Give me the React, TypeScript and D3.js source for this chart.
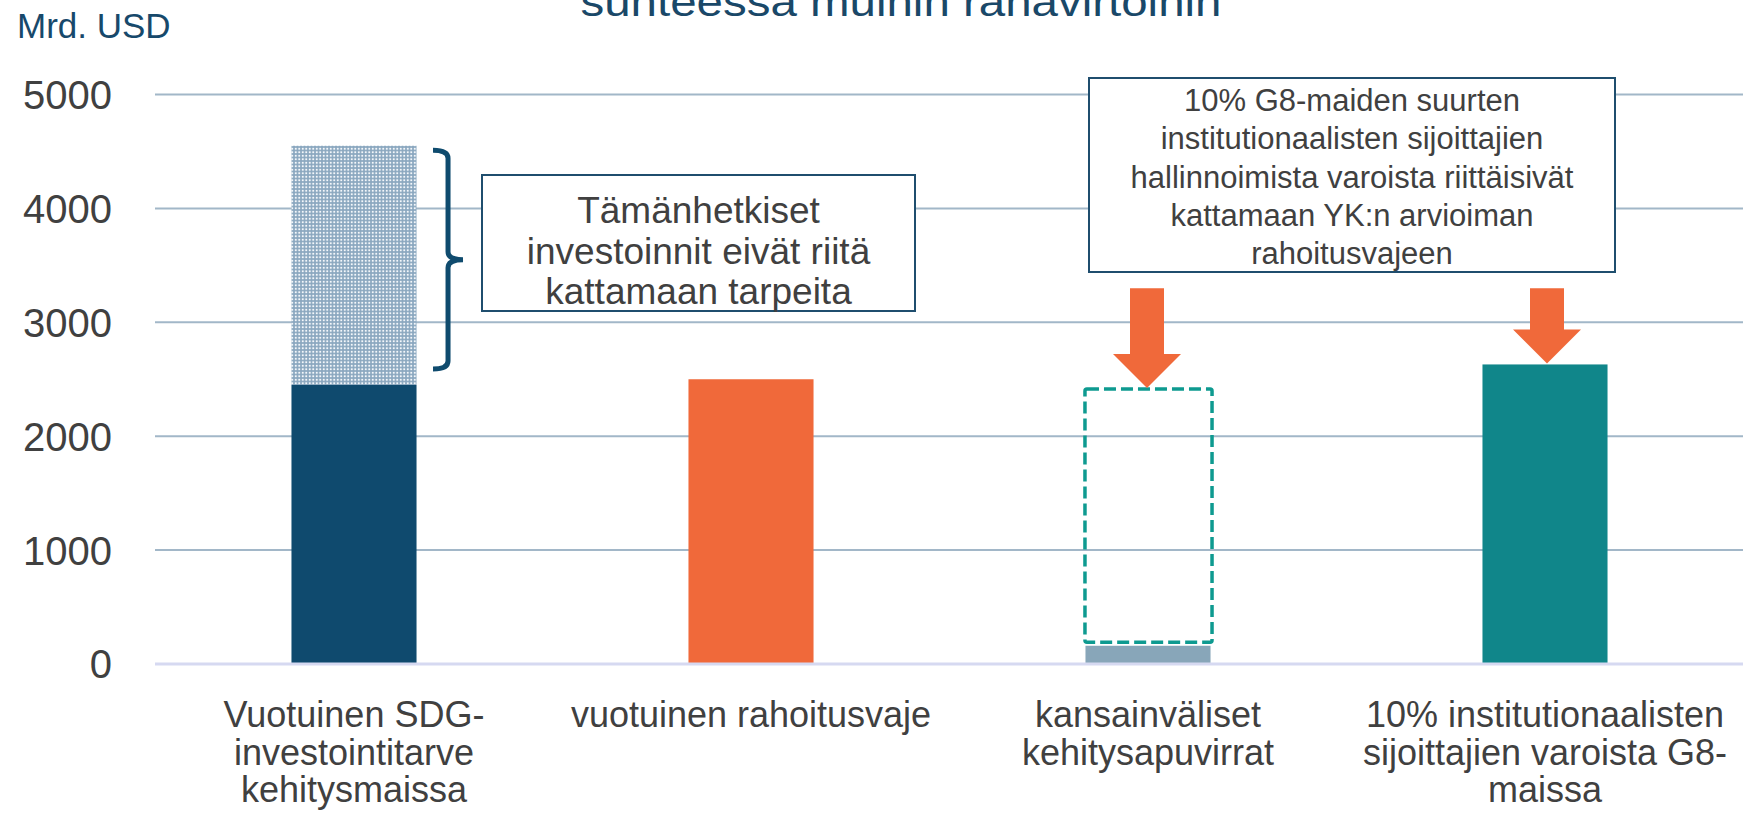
import React from 'react'
import * as d3 from 'd3'

// chart values (Mrd. USD)
const categories = ['sdg', 'gap', 'aid', 'inst']
const categoryLabels = [
  ['Vuotuinen SDG-', 'investointitarve', 'kehitysmaissa'],
  ['vuotuinen rahoitusvaje'],
  ['kansainväliset', 'kehitysapuvirrat'],
  ['10% institutionaalisten', 'sijoittajien varoista G8-', 'maissa']
]
const barValues = [2450, 2500, 160, 2630]
const barColors = ['#0F4A6E', '#F0693A', '#88A6B9', '#10868A']
const needTotal = 4550
const aidGapRange = [190, 2415]
const bracketRange = [2590, 4510]
const arrowCats = ['aid', 'inst']
const arrowTargets = [2415, 2630]
const arrowTop = 3300
const yTicks = [0, 1000, 2000, 3000, 4000, 5000]

const titleLine = 'suhteessa muihin rahavirtoihin'
const unitLabel = 'Mrd. USD'
const note1 = ['Tämänhetkiset', 'investoinnit eivät riitä', 'kattamaan tarpeita']
const note2 = [
  '10% G8-maiden suurten',
  'institutionaalisten sijoittajien',
  'hallinnoimista varoista riittäisivät',
  'kattamaan YK:n arvioiman',
  'rahoitusvajeen'
]

const W = 1743
const H = 822
const font = '"Liberation Sans", Arial, sans-serif'
const textGrey = '#404040'
const navy = '#0F4B6E'

export default function App() {
  const y = d3.scaleLinear().domain([0, 5000]).range([664, 94.5])
  const x = d3
    .scaleBand()
    .domain(categories)
    .range([155.5, 1743.5])
    .paddingInner(0.685)
    .paddingOuter(0.3425)
  const bw = x.bandwidth()
  const gridLeft = 155

  // bracket next to first bar
  const bx = x('sdg') + bw + 16.5
  const by1 = y(bracketRange[1])
  const by2 = y(bracketRange[0])
  const bym = (by1 + by2) / 2
  const bracket = `M${bx},${by1} Q${bx + 15},${by1} ${bx + 15},${by1 + 8} V${bym - 8} Q${bx + 15},${bym} ${bx + 30},${bym} Q${bx + 15},${bym} ${bx + 15},${bym + 8} V${by2 - 8} Q${bx + 15},${by2} ${bx},${by2}`

  return (
    <svg
      width={W}
      height={H}
      style={{position: 'fixed', left: 0, top: 0, background: '#fff'}}
      fontFamily={font}
    >
      <defs>
        <pattern id="dots" width="3.5" height="3.5" patternUnits="userSpaceOnUse">
          <rect width="3.5" height="3.5" fill="#8AA7BF" />
          <rect x="0.8" y="0.8" width="1.9" height="1.9" fill="#F4F7FA" />
        </pattern>
      </defs>

      {/* title, clipped at the top like the source */}
      <text
        x={901}
        y={16}
        fontSize={40}
        textAnchor="middle"
        fill="#1A4868"
        textLength={641}
        lengthAdjust="spacingAndGlyphs"
      >
        {titleLine}
      </text>
      <text x={17} y={38} fontSize={35} fill="#17496B">
        {unitLabel}
      </text>

      {/* grid */}
      {yTicks.map(t => (
        <g key={t}>
          {t > 0 && (
            <line x1={gridLeft} x2={W} y1={y(t)} y2={y(t)} stroke="#A2B7C8" strokeWidth={2} />
          )}
          <text
            x={112}
            y={y(t)}
            dy="0.36em"
            fontSize={40}
            textAnchor="end"
            fill={textGrey}
          >
            {t}
          </text>
        </g>
      ))}

      {/* bars */}
      <rect
        x={x('sdg')}
        y={y(needTotal)}
        width={bw}
        height={y(barValues[0]) - y(needTotal)}
        fill="url(#dots)"
      />
      {categories.map((c, i) => (
        <rect
          key={c}
          x={x(c)}
          y={y(barValues[i])}
          width={bw}
          height={y(0) - y(barValues[i])}
          fill={barColors[i]}
        />
      ))}
      <rect
        x={x('aid') - 0.5}
        y={y(aidGapRange[1])}
        width={bw + 2}
        height={y(aidGapRange[0]) - y(aidGapRange[1])}
        fill="none"
        stroke="#0E9A90"
        strokeWidth={3.5}
        strokeDasharray="12 5"
        rx={2}
      />
      <line x1={gridLeft} x2={W} y1={y(0)} y2={y(0)} stroke="#D6D9F1" strokeWidth={3} />

      {/* bracket and first note */}
      <path d={bracket} fill="none" stroke={navy} strokeWidth={5} />
      <rect x={482} y={175} width={433} height={136} fill="#fff" stroke="#1F4E6E" strokeWidth={2} />
      {note1.map((l, i) => (
        <text key={l} x={698.5} y={223 + i * 40.5} fontSize={37} textAnchor="middle" fill={textGrey}>
          {l}
        </text>
      ))}

      {/* second note */}
      <rect x={1089} y={78} width={526} height={194} fill="#fff" stroke="#1F4E6E" strokeWidth={2} />
      {note2.map((l, i) => (
        <text key={l} x={1352} y={111 + i * 38.3} fontSize={31} textAnchor="middle" fill={textGrey}>
          {l}
        </text>
      ))}

      {/* arrows */}
      {arrowCats.map((c, i) => {
        const cx = x(c) + bw / 2 + (i === 1 ? 2 : -1)
        const tip = y(arrowTargets[i]) - 1
        const top = y(arrowTop)
        const hb = tip - 34
        const pts = [
          [cx - 17, top],
          [cx + 17, top],
          [cx + 17, hb],
          [cx + 34, hb],
          [cx, tip],
          [cx - 34, hb],
          [cx - 17, hb]
        ]
        return <polygon key={c} points={pts.map(p => p.join(',')).join(' ')} fill="#F0693A" />
      })}

      {/* category labels */}
      {categories.map((c, i) =>
        categoryLabels[i].map((l, j) => (
          <text
            key={c + j}
            x={x(c) + bw / 2}
            y={727 + j * 37.5}
            fontSize={36}
            textAnchor="middle"
            fill={textGrey}
          >
            {l}
          </text>
        ))
      )}
    </svg>
  )
}
